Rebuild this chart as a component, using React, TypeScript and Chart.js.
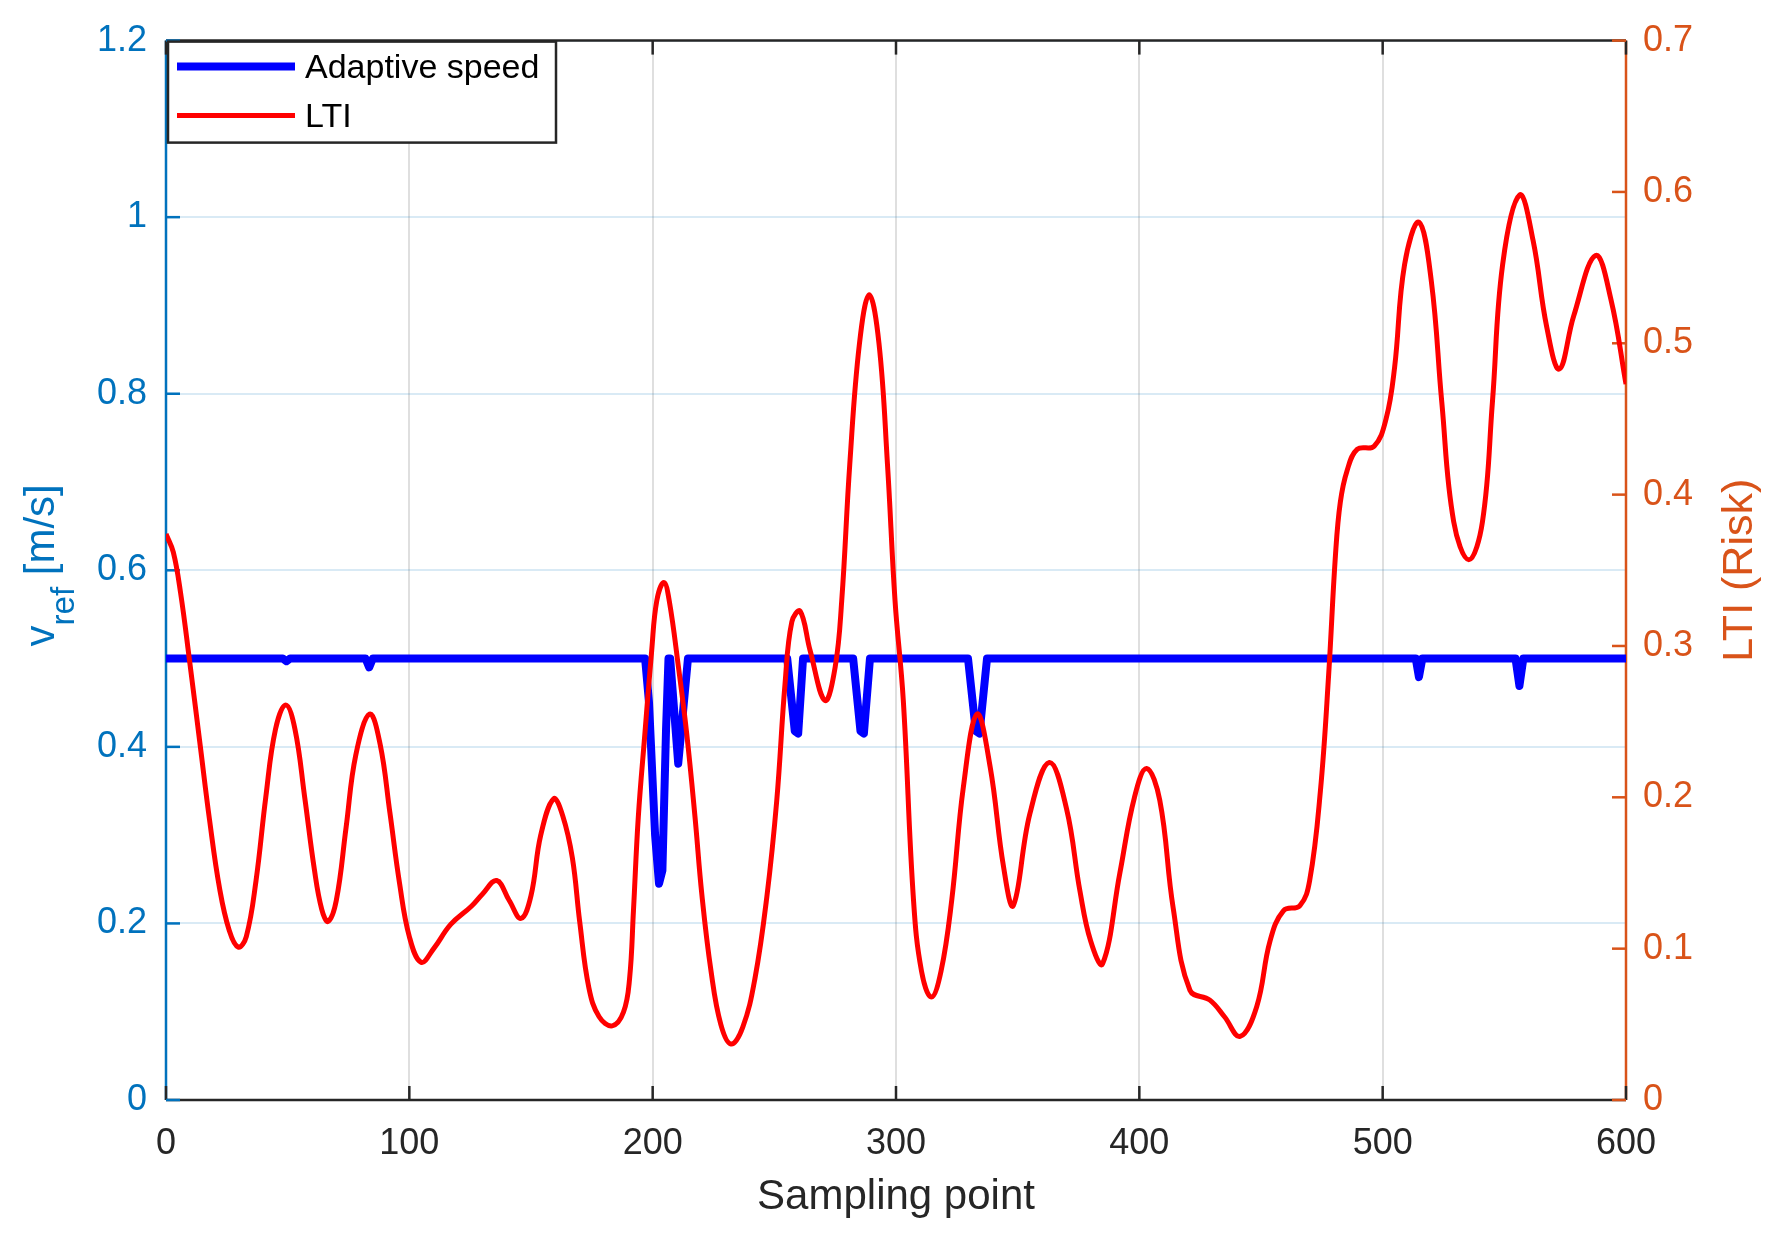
import { useEffect, useRef } from "react";
import { Chart, registerables, type Plugin } from "chart.js";

Chart.register(...registerables);

const FONT = "'Liberation Sans', Arial, Helvetica, sans-serif";
const LEFT_COLOR = "#0072BD";
const RIGHT_COLOR = "#D95319";
const AXIS_DARK = "#262626";

// LTI (risk) curve: sampling point -> value
const ltiSamples = [
  0, 3, 6, 9.7, 14, 17.9, 22, 26, 29.7, 33, 37, 41, 45, 49.2, 53, 57, 61, 64, 66.6, 70,
  74, 78, 83.7, 88, 92, 96, 100, 104.8, 110, 117, 125.5, 130, 135.9, 141, 145.9, 150,
  154, 159.3, 163, 167, 170, 173.8, 178, 183.4, 188, 190.5, 192.1, 194.1, 196.8, 199.6,
  201.7, 204.6, 206.8, 210.6, 214, 217.4, 220.2, 224, 228, 232.2, 237, 242, 246.9, 251,
  254.4, 257.2, 260.6, 264.7, 270.8, 275, 277.7, 281, 285, 289, 293, 296.5, 299.6, 303,
  307.2, 310.5, 314.5, 318.5, 322.9, 327.7, 333.3, 338.7, 344.2, 348.2, 355, 363, 370,
  375.6, 380, 384.9, 392, 398, 403, 408.4, 413.9, 420.8, 429, 435, 441.4, 448.2, 453.7,
  459.2, 466, 470, 474.4, 477.8, 480.6, 482.6, 485.4, 489.6, 496.5, 501.4, 504.9, 509,
  514.9, 520, 524.3, 529.2, 535.4, 541, 545.1, 549.3, 556.3, 561.8, 567.4, 572.6, 578.5,
  587.5, 593.8, 600,
];
const ltiValues = [
  0.374, 0.362, 0.335, 0.29, 0.235, 0.185, 0.14, 0.112, 0.101, 0.108, 0.145, 0.2, 0.245,
  0.261, 0.245, 0.2, 0.152, 0.126, 0.118, 0.132, 0.18, 0.228, 0.255, 0.235, 0.19, 0.143,
  0.108, 0.091, 0.1, 0.116, 0.128, 0.136, 0.145, 0.132, 0.12, 0.135, 0.175, 0.199, 0.188,
  0.16, 0.118, 0.074, 0.055, 0.049, 0.058, 0.08, 0.125, 0.187, 0.242, 0.297, 0.33, 0.342,
  0.33, 0.286, 0.242, 0.187, 0.136, 0.085, 0.05, 0.037, 0.048, 0.08, 0.134, 0.198, 0.275,
  0.316, 0.323, 0.297, 0.264, 0.286, 0.33, 0.42, 0.5, 0.532, 0.5, 0.42, 0.33, 0.264, 0.132,
  0.085, 0.068, 0.085, 0.132, 0.207, 0.255, 0.22, 0.154, 0.1285, 0.189, 0.223, 0.193,
  0.138, 0.105, 0.09, 0.15, 0.2, 0.219, 0.198, 0.127, 0.0725, 0.066, 0.055, 0.042, 0.0615,
  0.105, 0.125, 0.1285, 0.145, 0.204, 0.281, 0.36, 0.395, 0.416, 0.43, 0.432, 0.45, 0.484,
  0.552, 0.58, 0.541, 0.461, 0.382, 0.357, 0.382, 0.461, 0.552, 0.598, 0.568, 0.511, 0.483,
  0.518, 0.558, 0.529, 0.473,
];

// adaptive reference speed: flat 0.5 m/s with short dips
const speedSamples = [
  0, 48, 49.5, 51, 82, 83.5, 85, 196.9, 198.5, 201, 202.6, 204, 205.5, 206.5, 207.2, 210.5,
  214.5, 255.3, 258.4, 259.8, 261.8, 282.4, 285.4, 286.8, 289.3, 329.6, 332.8, 334.3,
  337.4, 513.6, 514.9, 516.3, 554.6, 556.2, 557.8, 600,
];
const speedValues = [
  0.5, 0.5, 0.497, 0.5, 0.5, 0.49, 0.5, 0.5, 0.45, 0.3, 0.245, 0.26, 0.42, 0.5, 0.5, 0.381,
  0.5, 0.5, 0.418, 0.415, 0.5, 0.5, 0.418, 0.415, 0.5, 0.5, 0.418, 0.415, 0.5, 0.5, 0.479,
  0.5, 0.5, 0.469, 0.5, 0.5,
];

const xRange = { min: 0, max: 600, step: 100 };
const speedRange = { min: 0, max: 1.2, step: 0.2 };
const riskRange = { min: 0, max: 0.7, step: 0.1 };

const toPoints = (xs: number[], ys: number[]) => xs.map((x, i) => ({ x, y: ys[i] }));
const fmt = (v: number) => String(Math.round(v * 10) / 10);

// MATLAB-style box with inward ticks, coloured per y-axis
const framePlugin: Plugin<"line"> = {
  id: "matlabFrame",
  beforeDatasetsDraw(chart) {
    const { ctx, chartArea: a, scales } = chart;
    const tick = 14;
    const seg = (x1: number, y1: number, x2: number, y2: number, c: string) => {
      ctx.strokeStyle = c;
      ctx.beginPath();
      ctx.moveTo(x1, y1);
      ctx.lineTo(x2, y2);
      ctx.stroke();
    };
    ctx.save();
    ctx.lineWidth = 2.5;
    seg(a.left, a.top, a.right, a.top, AXIS_DARK);
    seg(a.left, a.bottom, a.right, a.bottom, AXIS_DARK);
    seg(a.left, a.top, a.left, a.bottom, LEFT_COLOR);
    seg(a.right, a.top, a.right, a.bottom, RIGHT_COLOR);
    for (const t of scales.x.ticks) {
      const px = scales.x.getPixelForValue(t.value);
      seg(px, a.bottom, px, a.bottom - tick, AXIS_DARK);
      seg(px, a.top, px, a.top + tick, AXIS_DARK);
    }
    for (const t of scales.y.ticks) {
      const py = scales.y.getPixelForValue(t.value);
      seg(a.left, py, a.left + tick, py, LEFT_COLOR);
    }
    for (const t of scales.y1.ticks) {
      const py = scales.y1.getPixelForValue(t.value);
      seg(a.right - tick, py, a.right, py, RIGHT_COLOR);
    }
    ctx.restore();
  },
};

// y titles (subscript + bottom-to-top on both sides) and the boxed legend
const overlayPlugin: Plugin<"line"> = {
  id: "matlabOverlay",
  afterDraw(chart) {
    const { ctx, chartArea: a } = chart;
    const midY = (a.top + a.bottom) / 2;

    ctx.save();
    ctx.fillStyle = LEFT_COLOR;
    ctx.textBaseline = "alphabetic";
    const main = `42px ${FONT}`;
    const sub = `33px ${FONT}`;
    ctx.font = main;
    const wV = ctx.measureText("v").width;
    const wRest = ctx.measureText(" [m/s]").width;
    ctx.font = sub;
    const wRef = ctx.measureText("ref").width;
    const total = wV + wRef + wRest;
    ctx.translate(54, midY - 5);
    ctx.rotate(-Math.PI / 2);
    let x0 = -total / 2;
    ctx.font = main;
    ctx.fillText("v", x0, 0);
    x0 += wV;
    ctx.font = sub;
    ctx.fillText("ref", x0, 20);
    x0 += wRef;
    ctx.font = main;
    ctx.fillText(" [m/s]", x0, 0);
    ctx.restore();

    ctx.save();
    ctx.fillStyle = RIGHT_COLOR;
    ctx.font = `43px ${FONT}`;
    ctx.textAlign = "center";
    ctx.textBaseline = "alphabetic";
    ctx.translate(1752, midY);
    ctx.rotate(-Math.PI / 2);
    ctx.fillText("LTI (Risk)", 0, 0);
    ctx.restore();

    // legend
    const bx = a.left + 2;
    const by = a.top + 1;
    const bw = 388;
    const bh = 101;
    ctx.save();
    ctx.fillStyle = "#ffffff";
    ctx.fillRect(bx, by, bw, bh);
    ctx.strokeStyle = AXIS_DARK;
    ctx.lineWidth = 2.5;
    ctx.strokeRect(bx, by, bw, bh);
    ctx.font = `34px ${FONT}`;
    ctx.textBaseline = "middle";
    chart.data.datasets.forEach((ds, i) => {
      const ly = by + 25 + i * 49;
      ctx.strokeStyle = ds.borderColor as string;
      ctx.lineWidth = ds.borderWidth as number;
      ctx.beginPath();
      ctx.moveTo(bx + 9, ly);
      ctx.lineTo(bx + 127, ly);
      ctx.stroke();
      ctx.fillStyle = "#000000";
      ctx.fillText(ds.label ?? "", bx + 137, ly + 2);
    });
    ctx.restore();
  },
};

export default function App() {
  const canvasRef = useRef<HTMLCanvasElement>(null);

  useEffect(() => {
    if (!canvasRef.current) return;
    const chart = new Chart(canvasRef.current, {
      type: "line",
      data: {
        datasets: [
          {
            label: "Adaptive speed",
            data: toPoints(speedSamples, speedValues),
            borderColor: "#0000ff",
            borderWidth: 8,
            pointRadius: 0,
            tension: 0,
            borderJoinStyle: "round",
            yAxisID: "y",
            order: 1,
          },
          {
            label: "LTI",
            data: toPoints(ltiSamples, ltiValues),
            borderColor: "#ff0000",
            borderWidth: 5,
            pointRadius: 0,
            tension: 0.4,
            borderJoinStyle: "round",
            yAxisID: "y1",
            order: 0,
          },
        ],
      },
      options: {
        animation: false,
        responsive: true,
        maintainAspectRatio: false,
        layout: { padding: { top: 38, left: 0, right: 0, bottom: 0 } },
        plugins: { legend: { display: false }, tooltip: { enabled: false } },
        scales: {
          x: {
            type: "linear",
            min: xRange.min,
            max: xRange.max,
            ticks: {
              stepSize: xRange.step,
              autoSkip: false,
              maxRotation: 0,
              padding: 22,
              color: AXIS_DARK,
              font: { family: FONT, size: 36 },
            },
            grid: { color: "rgba(38,38,38,0.15)", lineWidth: 2, drawTicks: false },
            border: { display: false },
            title: {
              display: true,
              text: "Sampling point",
              color: AXIS_DARK,
              font: { family: FONT, size: 42 },
              padding: { top: 0, bottom: 12 },
            },
            afterFit: (scale) => {
              scale.height = 135;
            },
          },
          y: {
            position: "left",
            min: speedRange.min,
            max: speedRange.max,
            ticks: {
              stepSize: speedRange.step,
              padding: 19,
              color: LEFT_COLOR,
              font: { family: FONT, size: 36 },
              callback: (v) => fmt(Number(v)),
            },
            grid: { color: "rgba(0,114,189,0.15)", lineWidth: 2, drawTicks: false },
            border: { display: false },
            afterFit: (scale) => {
              scale.width = 166;
            },
          },
          y1: {
            position: "right",
            min: riskRange.min,
            max: riskRange.max,
            ticks: {
              stepSize: riskRange.step,
              padding: 17,
              color: RIGHT_COLOR,
              font: { family: FONT, size: 36 },
              callback: (v) => fmt(Number(v)),
            },
            grid: { display: false, drawTicks: false },
            border: { display: false },
            afterFit: (scale) => {
              scale.width = 151;
            },
          },
        },
      },
      plugins: [framePlugin, overlayPlugin],
    });
    return () => chart.destroy();
  }, []);

  return (
    <div style={{ position: "absolute", left: 0, top: 0, width: "1777px", height: "1235px", background: "#fff" }}>
      <canvas ref={canvasRef} />
    </div>
  );
}
